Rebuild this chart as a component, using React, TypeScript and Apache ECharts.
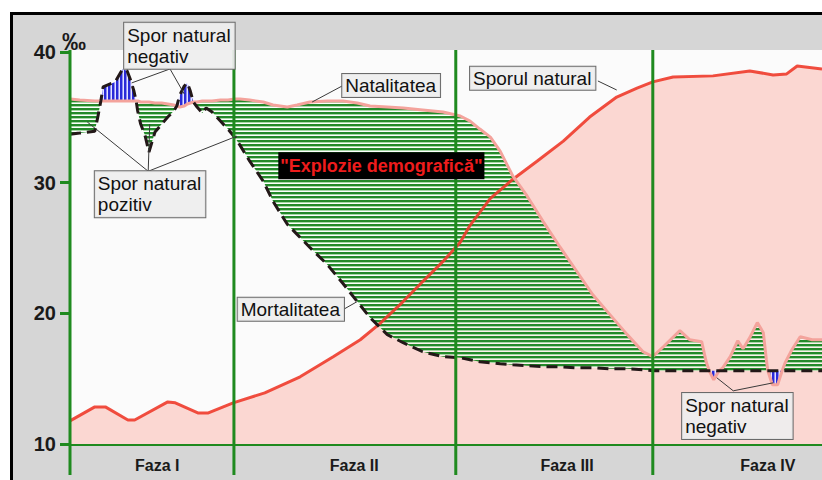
import React, { useEffect, useRef } from "react";
import * as echarts from "echarts";

// ---- DATA (x: schematic time scale 0–100, y: rate in ‰) ----
const years = [
  0, 1.3, 3.3, 3.7, 4.1, 4.4, 6.0, 7.0, 7.6, 8.1, 8.5, 8.8, 9.0, 9.4, 10.0, 10.5, 11.3, 12.2, 13.0, 13.8,
  14.2, 14.6, 15.2, 15.6, 16.0, 16.4, 16.9, 17.6, 18.1, 18.9, 20.0, 21.0, 21.9, 22.6, 23.9, 25.7, 27.0,
  28.9, 30.2, 31.9, 34.2, 36.3, 38.2, 39.9, 42.2, 44.3, 46.9, 49.6, 51.9, 53.2, 54.5, 55.9, 57.2, 58.9,
  60.8, 62.9, 65.2, 67.4, 69.5, 71.8, 74.1, 76.2, 77.5, 78.9, 81.1, 82.4, 84.0, 84.6, 85.0, 85.6, 86.3,
  86.8, 87.8, 88.8, 89.5, 90.4, 91.4, 92.2, 92.6, 92.8, 93.4, 94.1, 94.7, 95.1, 96.0, 97.1, 98.7, 100,
];
const natalitate = [
  36.4, 36.32, 36.25, 36.25, 36.25, 36.25, 36.25, 36.25, 36.25, 36.25, 36.25, 36.25, 36.25, 36.17, 36.17,
  36.17, 36.09, 36.09, 36.02, 35.94, 35.86, 35.79, 35.86, 36.02, 36.09, 36.17, 36.17, 36.25, 36.25, 36.25,
  36.32, 36.32, 36.4, 36.4, 36.32, 36.17, 35.94, 35.79, 35.94, 36.17, 36.25, 36.25, 36.09, 35.86, 35.79,
  35.71, 35.56, 35.4, 35.1, 34.71, 34.1, 33.48, 32.41, 30.49, 28.96, 27.04, 25.04, 23.2, 21.44, 19.9,
  18.37, 17.06, 16.68, 17.44, 18.67, 17.98, 17.83, 16.29, 15.6, 14.91, 15.6, 15.83, 16.68, 17.9, 17.29,
  18.14, 19.29, 18.52, 16.45, 15.6, 14.53, 14.53, 15.6, 16.22, 17.21, 18.21, 17.98, 17.98,
];
const mortalitate = [
  33.71, 33.79, 33.94, 35.02, 36.25, 37.32, 37.71, 38.7, 38.55, 37.78, 37.01, 36.25, 35.48, 34.48, 33.56,
  32.33, 33.87, 34.48, 35.02, 35.48, 35.86, 36.71, 37.4, 37.63, 37.01, 36.17, 35.79, 35.33, 35.71, 35.4,
  34.71, 34.1, 33.48, 32.87, 31.64, 30.11, 28.57, 26.81, 26.04, 25.04, 23.74, 22.28, 20.9, 19.67, 18.37,
  17.75, 17.06, 16.68, 16.6, 16.45, 16.29, 16.22, 16.14, 16.06, 15.99, 15.91, 15.91, 15.83, 15.83, 15.76,
  15.76, 15.68, 15.6, 15.6, 15.6, 15.6, 15.6, 15.6, 15.6, 15.6, 15.6, 15.6, 15.6, 15.6, 15.6, 15.6, 15.6,
  15.6, 15.6, 15.6, 15.6, 15.6, 15.6, 15.6, 15.6, 15.6, 15.6, 15.6,
];

// red curve labelled "Sporul natural"
const sporYears = [
  0, 3.3, 4.7, 7.7, 8.6, 13.0, 14.0, 17.0, 18.4, 21.7, 25.9, 30.6, 35.0, 38.6, 41.2, 44.3, 46.9, 49.6,
  51.9, 53.2, 55.9, 58.9, 62.1, 65.6, 69.1, 72.7, 75.4, 77.5, 80.2, 85.5, 90.4, 93.5, 95.3, 96.7, 100,
];
const sporNatural = [
  11.77, 12.84, 12.84, 11.84, 11.84, 13.22, 13.15, 12.38, 12.38, 13.15, 13.91, 15.14, 16.68, 17.98, 19.21,
  20.9, 22.43, 23.97, 25.43, 26.73, 28.8, 30.26, 31.64, 33.18, 35.02, 36.55, 37.24, 37.71, 38.09, 38.17,
  38.55, 38.24, 38.32, 38.93, 38.7,
];

const phaseBounds = [0, 21.8, 51.3, 77.5];
const phaseNames = ["Faza I", "Faza II", "Faza III", "Faza IV"];
const phaseCenters = [11.6, 37.8, 66.1, 92.8];
const yTicks = [10, 20, 30, 40];

// ---- annotation layout (data coordinates) ----
const notes = [
  { text: "Spor natural\nnegativ", at: [7.2, 42.23], from: [13.3, 38.7], to: [[8.2, 37.63], [15.2, 36.78]] },
  { text: "Spor natural\npozitiv", at: [3.3, 30.87], from: [10.4, 30.87], to: [[2.3, 34.64], [10.6, 34.48], [22.2, 33.56]] },
  { text: "Natalitatea", at: [36.2, 38.32], from: [36.2, 37.4], to: [[32.2, 36.17]] },
  { text: "Sporul natural", at: [53.2, 38.86], from: [70.2, 37.78], to: [[72.7, 37.09]] },
  { text: "Mortalitatea", at: [22.3, 21.2], from: [36.3, 20.28], to: [[38.2, 20.9]] },
  { text: "\"Explozie demografică\"", at: [27.7, 32.33], from: null, to: [], dark: true },
  { text: "Spor natural\nnegativ", at: [81.4, 13.91], from: [88.2, 14.07], to: [[86.0, 15.07], [93.5, 14.68]] },
];

const Y_MIN = 10;
const Y_MAX = 40.15;
const GREEN = "#1f8a1f";
const FONT = "'Liberation Sans', Arial, sans-serif";

function stripePattern(w: number, h: number, paint: (ctx: CanvasRenderingContext2D) => void) {
  const c = document.createElement("canvas");
  c.width = w;
  c.height = h;
  const ctx = c.getContext("2d") as CanvasRenderingContext2D;
  paint(ctx);
  return { image: c.toDataURL(), repeat: "repeat", imageWidth: w, imageHeight: h } as any;
}

function buildRuns() {
  const runs: number[][] = [];
  let start = 0;
  let sign = 0;
  for (let i = 0; i < years.length - 1; i++) {
    const d = (natalitate[i] + natalitate[i + 1]) / 2 - (mortalitate[i] + mortalitate[i + 1]) / 2;
    const s = d >= 0 ? 1 : -1;
    if (i === 0) sign = s;
    else if (s !== sign) {
      runs.push([start, i, sign]);
      start = i;
      sign = s;
    }
  }
  runs.push([start, years.length - 1, sign]);
  return runs;
}

export default function App() {
  const ref = useRef<HTMLDivElement>(null);

  useEffect(() => {
    const chart = echarts.init(ref.current as HTMLDivElement, null, { renderer: "svg" });

    const greenHatch = stripePattern(4, 4, (ctx) => {
      ctx.fillStyle = "rgba(255,255,255,0.6)";
      ctx.fillRect(0, 0, 4, 4);
      ctx.fillStyle = "#24892a";
      ctx.fillRect(0, 0, 4, 2);
      ctx.fillStyle = "rgba(160,215,160,0.95)";
      ctx.fillRect(0, 2, 4, 1);
    });
    const blueHatch = stripePattern(4, 4, (ctx) => {
      ctx.fillStyle = "rgba(225,225,255,0.9)";
      ctx.fillRect(0, 0, 4, 4);
      ctx.fillStyle = "#2a2ad8";
      ctx.fillRect(0, 0, 2, 4);
      ctx.fillStyle = "#8c8cf0";
      ctx.fillRect(2, 0, 1, 4);
    });

    const runs = buildRuns();
    const sporPairs = sporYears.map((x, i) => [x, sporNatural[i]]);

    const option: any = {
      animation: false,
      backgroundColor: "#ffffff",
      graphic: [
        {
          type: "rect",
          z: -100,
          silent: true,
          shape: { x: 11.5, y: 13.5, width: 830, height: 480 },
          style: { fill: "#d6d6d6", stroke: "#000", lineWidth: 3 },
        },
      ],
      grid: {
        left: 70,
        right: 0,
        top: 50,
        bottom: 36,
        show: true,
        backgroundColor: "#fbfbfb",
        borderWidth: 0,
      },
      xAxis: {
        type: "value",
        min: 0,
        max: 100,
        axisLine: { show: true, lineStyle: { color: GREEN, width: 3 } },
        axisTick: { show: false },
        axisLabel: { show: false },
        splitLine: { show: false },
      },
      yAxis: {
        type: "value",
        min: Y_MIN,
        max: Y_MAX,
        interval: 10,
        name: "‰",
        nameLocation: "end",
        nameGap: -3,
        nameTextStyle: { fontSize: 24, fontWeight: "bold", color: "#1a1a1a", fontFamily: FONT, padding: [0, 0, 0, 8] },
        axisLine: { show: false },
        axisTick: { show: true, length: 10, customValues: yTicks, lineStyle: { color: GREEN, width: 3 } },
        axisLabel: {
          customValues: yTicks,
          margin: 14,
          fontSize: 20,
          fontWeight: "bold",
          color: "#1a1a1a",
          fontFamily: FONT,
        },
        splitLine: { show: false },
      },
      series: [
        {
          name: "spor-area",
          type: "line",
          z: 1,
          symbol: "none",
          silent: true,
          data: sporPairs,
          lineStyle: { width: 0 },
          areaStyle: { color: "#fbd7d2", origin: "start", opacity: 1 },
        },
        {
          name: "spor",
          type: "custom",
          z: 2,
          clip: false,
          data: runs.map((r) => [years[r[0]], natalitate[r[0]]]),
          renderItem: (params: any, api: any) => {
            const r = runs[params.dataIndex];
            const pts: number[][] = [];
            for (let k = r[0]; k <= r[1]; k++) pts.push(api.coord([years[k], natalitate[k]]));
            for (let k = r[1]; k >= r[0]; k--) pts.push(api.coord([years[k], mortalitate[k]]));
            return {
              type: "polygon",
              shape: { points: pts },
              style: { fill: r[2] > 0 ? greenHatch : blueHatch, stroke: "none" },
            };
          },
        },
        {
          name: "Sporul natural",
          type: "line",
          z: 3,
          symbol: "none",
          data: sporPairs,
          lineStyle: { color: "#ee3b2b", width: 3, opacity: 0.9 },
        },
        {
          name: "Natalitatea",
          type: "line",
          z: 4,
          symbol: "none",
          data: years.map((x, i) => [x, natalitate[i]]),
          lineStyle: { color: "#f4a39c", width: 3 },
        },
        {
          name: "Mortalitatea",
          type: "line",
          z: 5,
          symbol: "none",
          data: years.map((x, i) => [x, mortalitate[i]]),
          lineStyle: { color: "#231818", width: 3, type: [11, 6] },
        },
        {
          name: "faze",
          type: "custom",
          z: 6,
          clip: false,
          silent: true,
          data: phaseBounds.map((x) => [x, Y_MIN]),
          renderItem: (params: any, api: any) => {
            const x = phaseBounds[params.dataIndex];
            const top = api.coord([x, Y_MAX]);
            const bot = api.coord([x, Y_MIN]);
            const children: any[] = [
              {
                type: "line",
                shape: { x1: top[0], y1: top[1], x2: bot[0], y2: bot[1] + 31 },
                style: { stroke: GREEN, lineWidth: 3 },
              },
            ];
            const c = api.coord([phaseCenters[params.dataIndex], Y_MIN]);
            children.push({
              type: "text",
              x: c[0],
              y: c[1] + 21,
              style: {
                text: phaseNames[params.dataIndex],
                font: `bold 16px ${FONT}`,
                fill: "#1a1a1a",
                align: "center",
                verticalAlign: "middle",
              },
            });
            return { type: "group", children };
          },
        },
        {
          name: "note",
          type: "custom",
          z: 7,
          clip: false,
          silent: true,
          data: notes.map((n) => n.at),
          renderItem: (params: any, api: any) => {
            const n: any = notes[params.dataIndex];
            const children: any[] = [];
            if (n.from) {
              const f = api.coord(n.from);
              n.to.forEach((t: number[]) => {
                const p = api.coord(t);
                children.push({
                  type: "line",
                  shape: { x1: f[0], y1: f[1], x2: p[0], y2: p[1] },
                  style: { stroke: "#3a3a3a", lineWidth: 1 },
                });
              });
            }
            const a = api.coord(n.at);
            const multi = n.text.indexOf("\n") >= 0;
            children.push({
              type: "text",
              x: a[0],
              y: a[1],
              style: n.dark
                ? {
                    text: n.text,
                    font: `bold 18px ${FONT}`,
                    fill: "#ee1c1c",
                    backgroundColor: "#000",
                    padding: [4, 2, 3, 2],
                    lineHeight: 20,
                    align: "left",
                    verticalAlign: "top",
                  }
                : {
                    text: n.text,
                    font: `19px ${FONT}`,
                    fill: "#111",
                    backgroundColor: "rgba(238,238,238,0.92)",
                    borderColor: "#6a6a6a",
                    borderWidth: 1,
                    padding: multi ? [2, 4, 2, 3] : [1, 4, 1, 3],
                    lineHeight: 21,
                    align: "left",
                    verticalAlign: "top",
                  },
            });
            return { type: "group", children };
          },
        },
      ],
    };

    chart.setOption(option);
    return () => chart.dispose();
  }, []);

  return <div ref={ref} style={{ position: "fixed", left: 0, top: 0, width: 822, height: 480 }} />;
}
